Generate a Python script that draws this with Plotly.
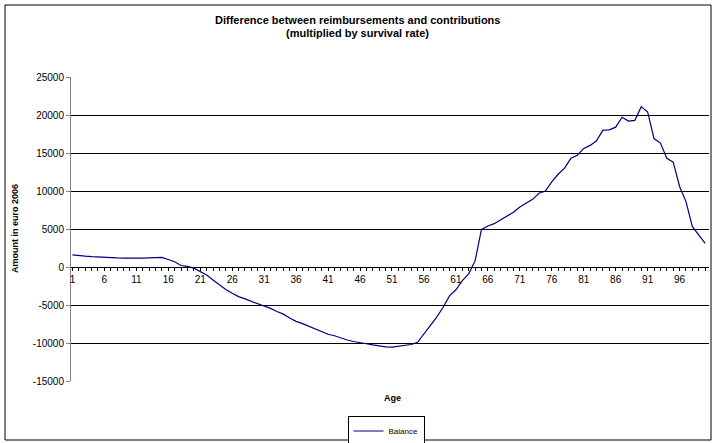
import plotly.graph_objects as go

ages = list(range(1, 101))
balance = [
    1600, 1480, 1420, 1360, 1300, 1250, 1220, 1200, 1180, 1160,
    1160, 1180, 1210, 1240, 1260, 980, 700, 200, 80, -150,
    -550, -1050, -1700, -2350, -2950, -3450, -3900, -4200, -4500, -4800,
    -5100, -5450, -5850, -6200, -6700, -7150, -7450, -7800, -8150, -8500,
    -8850, -9050, -9350, -9600, -9800, -10000, -10100, -10250, -10400, -10500,
    -10550, -10450, -10350, -10200, -9900, -8800, -7800, -6600, -5300, -3800,
    -3000, -1800, -900, 800, 4950, 5400, 5700, 6200, 6700, 7200,
    7900, 8400, 8900, 9700, 10000, 11200, 12200, 13000, 14300, 14700,
    15600, 16000, 16600, 18000, 18050, 18400, 19700, 19200, 19300, 21100,
    20400, 16900, 16300, 14300, 13800, 10600, 8600, 5300, 4200, 3100,
]
x_tick_vals = list(range(1, 100, 5))
y_tick_vals = [-15000, -10000, -5000, 0, 5000, 10000, 15000, 20000, 25000]
y_tick_text = ["-15000", "-10000", "-5000", "0", "5000", "10000", "15000", "20000", "25000"]
title_lines = ["Difference between reimbursements and contributions",
               "(multiplied by survival rate)"]

W, H = 712, 443
L, R, T, B = 71, 3, 77, 62
pw, ph = W - L - R, H - T - B

def px_x(px):
    return (px - L) / pw

def px_y(py):
    return (H - B - py) / ph

FONT = "Arial, Liberation Sans, sans-serif"

fig = go.Figure()
fig.add_trace(go.Scatter(
    x=ages, y=balance, mode="lines", name="Balance",
    line=dict(color="#000080", width=1.2),
))

annotations = [
    dict(text="<b>Amount in euro 2006</b>", xref="paper", yref="paper",
         x=px_x(15), y=0.5, xanchor="center", yanchor="middle",
         textangle=-90, showarrow=False,
         font=dict(family=FONT, size=9, color="black")),
    dict(text="<b>Age</b>", xref="paper", yref="paper",
         x=px_x(392), y=px_y(398), xanchor="center", yanchor="middle",
         showarrow=False,
         font=dict(family=FONT, size=9, color="black")),
]
for line_text, ypx in zip(title_lines, [20, 33]):
    annotations.append(dict(
        text="<b>" + line_text + "</b>", xref="paper", yref="paper",
        x=px_x(357), y=px_y(ypx), xanchor="center", yanchor="middle",
        showarrow=False, font=dict(family=FONT, size=11, color="black")))

fig.update_layout(
    width=W, height=H,
    margin=dict(l=L, r=R, t=T, b=B, autoexpand=False),
    paper_bgcolor="white", plot_bgcolor="white",
    font=dict(family=FONT, size=10, color="black"),
    showlegend=True,
    legend=dict(
        x=px_x(386), y=px_y(431), xanchor="center", yanchor="middle",
        bordercolor="black", borderwidth=1, bgcolor="white",
        font=dict(family=FONT, size=8, color="black"),
        itemwidth=30,
    ),
    xaxis=dict(
        range=[0.78, 100.6],
        anchor="free", position=15000 / 40000,
        tickmode="array", tickvals=x_tick_vals,
        ticks="outside", ticklen=3, tickcolor="black", tickwidth=1,
        minor=dict(ticks="outside", dtick=1, tick0=1, ticklen=3, tickcolor="black"),
        showline=True, linecolor="black", linewidth=1,
        showgrid=False, zeroline=False,
        tickfont=dict(family=FONT, size=10, color="black"),
    ),
    yaxis=dict(
        range=[-15000, 25000],
        tickmode="array", tickvals=y_tick_vals, ticktext=y_tick_text,
        ticks="outside", ticklen=4, tickcolor="#808080",
        showline=True, linecolor="#808080", linewidth=1,
        showgrid=True, gridcolor="black", gridwidth=1,
        zeroline=False,
        tickfont=dict(family=FONT, size=10, color="black"),
    ),
    annotations=annotations,
    shapes=[
        dict(type="rect", xref="paper", yref="paper",
             x0=px_x(5), x1=px_x(711), y0=px_y(440), y1=px_y(5),
             line=dict(color="black", width=1), fillcolor="rgba(0,0,0,0)",
             layer="below"),
    ],
)

fig.write_html(
    "out.html",
    config={"displayModeBar": False},
    post_script="document.body.style.margin='0';document.body.style.overflow='hidden';",
)
